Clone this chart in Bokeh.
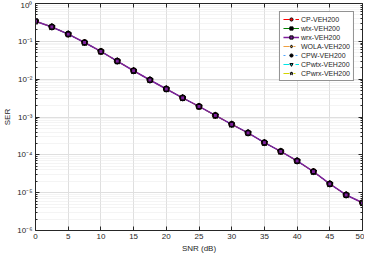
from bokeh.plotting import figure
from bokeh.models import (LinearAxis, LogAxis, FixedTicker, CustomJSTickFormatter,
                          Range1d, Legend)
from bokeh.embed import file_html
from bokeh.resources import INLINE

# ---- data ----
snr_db = [0, 2.5, 5, 7.5, 10, 12.5, 15, 17.5, 20, 22.5, 25, 27.5, 30,
          32.5, 35, 37.5, 40, 42.5, 45, 47.5, 50]
ser_cp = [0.34, 0.24, 0.155, 0.093, 0.054, 0.030, 0.0167, 0.0095, 0.0055, 0.0032,
          0.0019, 0.0011, 6.4e-4, 3.8e-4, 2.1e-4, 1.23e-4, 6.9e-5, 3.6e-5,
          1.7e-5, 8.7e-6, 5.4e-6]
ser_wtx = list(ser_cp)
ser_wrx = list(ser_cp)
ser_wola = list(ser_cp)
ser_cpw = list(ser_cp)
ser_cpwtx = list(ser_cp)
ser_cpwrx = list(ser_cp)

series_names = ["CP-VEH200", "wtx-VEH200", "wrx-VEH200", "WOLA-VEH200",
                "CPW-VEH200", "CPwtx-VEH200", "CPwrx-VEH200"]
series_values = [ser_cp, ser_wtx, ser_wrx, ser_wola, ser_cpw, ser_cpwtx, ser_cpwrx]
x_ticks = [0, 5, 10, 15, 20, 25, 30, 35, 40, 45, 50]
y_exponents = [-6, -5, -4, -3, -2, -1, 0]

# ---- styles ----
styles = [
    dict(color="#ff0000", dash="dashed", marker="circle", fill="#ff0000", size=6),
    dict(color="#008000", dash="solid", marker="square", fill="black", size=3),
    dict(color="#7e1e9c", dash="solid", marker="square", fill="#7e1e9c", size=4),
    dict(color="#f0a040", dash="dashdot", marker="diamond", fill="#d98c1f", size=6),
    dict(color="#4da6ff", dash="dotted", marker="circle", fill="black", size=3),
    dict(color="#00e5e5", dash="dashed", marker="inverted_triangle", fill="#00cccc", size=5),
    dict(color="#d4d400", dash="dashdot", marker="star", fill=None, size=7),
]
top_index = 2  # purple wrx line / marker drawn on top

FONT = "Liberation Sans"
AX = "#262626"

p = figure(width=364, height=255, y_axis_type="log",
           x_range=Range1d(0, 50), y_range=Range1d(1e-6, 1),
           output_backend="svg", toolbar_location=None,
           min_border_left=2, min_border_right=2, min_border_top=3, min_border_bottom=0)
p.outline_line_color = None
p.background_fill_color = "white"

major_y = [10.0 ** e for e in y_exponents]
minor_y = [m * 10.0 ** e for e in y_exponents[:-1] for m in range(2, 10)]
yticker = FixedTicker(ticks=major_y, minor_ticks=minor_y)
xticker = FixedTicker(ticks=x_ticks)

sup = CustomJSTickFormatter(code="""
const m = {'-':'\u207b','0':'\u2070','1':'\u00b9','2':'\u00b2','3':'\u00b3','4':'\u2074',
           '5':'\u2075','6':'\u2076','7':'\u2077','8':'\u2078','9':'\u2079'};
const e = String(Math.round(Math.log10(tick)));
let s = '';
for (const c of e) { s += m[c]; }
return '10' + s;
""")

def style_axis(ax, labels=True):
    ax.axis_line_color = AX
    ax.major_tick_line_color = AX
    ax.minor_tick_line_color = AX
    ax.major_tick_in = 4
    ax.major_tick_out = 0
    ax.minor_tick_in = 2
    ax.minor_tick_out = 0
    ax.major_label_text_font = FONT
    ax.major_label_text_font_size = "8px"
    ax.major_label_text_color = AX
    ax.axis_label_text_font = FONT
    ax.axis_label_text_font_size = "8px"
    ax.axis_label_text_font_style = "normal"
    ax.axis_label_text_color = AX
    if not labels:
        ax.major_label_text_font_size = "0px"
        ax.major_label_text_alpha = 0
        ax.major_label_standoff = 0

xa = p.xaxis[0]
xa.ticker = xticker
xa.axis_label = "SNR (dB)"
xa.axis_label_standoff = 2
xa.major_label_standoff = 3
style_axis(xa)
xa.minor_tick_line_color = None

ya = p.yaxis[0]
ya.ticker = yticker
ya.formatter = sup
ya.axis_label = "SER"
ya.axis_label_standoff = 2
ya.major_label_standoff = 3
style_axis(ya)

top = LinearAxis(ticker=xticker)
style_axis(top, labels=False)
top.minor_tick_line_color = None
p.add_layout(top, "above")
right = LogAxis(ticker=yticker)
style_axis(right, labels=False)
p.add_layout(right, "right")

p.xgrid.ticker = xticker
p.ygrid.ticker = yticker
p.xgrid.grid_line_color = "#dfdfdf"
p.ygrid.grid_line_color = "#dfdfdf"
p.ygrid.minor_grid_line_color = "#e8e8e8"
p.ygrid.minor_grid_line_dash = "1 1"

order = [i for i in range(len(series_names)) if i != top_index] + [top_index]
line_rs = {}
for i in order:
    st = styles[i]
    line_rs[i] = p.line(snr_db, series_values[i], line_color=st["color"],
                        line_width=1.5 if i == top_index else 1.0,
                        line_dash=st["dash"])
marker_rs = {}
for i in order:
    st = styles[i]
    marker_rs[i] = p.scatter(snr_db, series_values[i], marker=st["marker"], size=st["size"],
                             fill_color=st["fill"], line_color="black", line_width=1)

legend = Legend(items=[(series_names[i], [line_rs[i], marker_rs[i]])
                       for i in range(len(series_names))], location="top_right")
legend.label_text_font = FONT
legend.label_text_font_size = "7px"
legend.label_text_color = AX
legend.label_height = 7
legend.glyph_height = 8
legend.glyph_width = 16
legend.spacing = 1
legend.padding = 3
legend.margin = 8
legend.label_standoff = 2
legend.border_line_color = AX
legend.border_line_width = 1
legend.background_fill_alpha = 1
p.add_layout(legend, "center")

open("out.html", "w").write(file_html(p, INLINE))
